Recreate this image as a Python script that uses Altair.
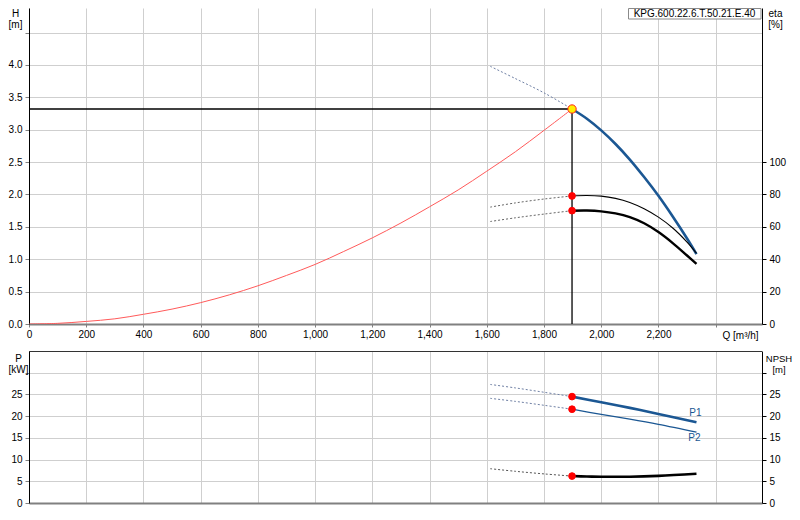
import altair as alt
import pandas as pd

FONT = "Liberation Sans"
BLUE = "#1b5793"
GRID = "#cfcfcf"

# ---------------- data ----------------
model_name = "KPG.600.22.6.T.50.21.E.40"
Q_MAX = 2562
duty_Q = 1898
duty_H = 3.32

# pump head curve H(Q)
h_dash_Q = [1612, 1700, 1800, 1898]
h_dash_H = [3.98, 3.79, 3.57, 3.32]
h_Q = [1898, 1950, 2000, 2050, 2100, 2150, 2200, 2250, 2300, 2333]
h_H = [3.32, 3.17, 2.99, 2.78, 2.54, 2.27, 1.98, 1.66, 1.32, 1.08]

# system curve
sys_Q = [0, 100, 200, 300, 400, 500, 600, 700, 800, 900, 1000, 1100, 1200,
         1300, 1400, 1500, 1600, 1700, 1800, 1898]
sys_H = [0.00, 0.01, 0.04, 0.08, 0.15, 0.23, 0.33, 0.45, 0.59, 0.75, 0.92,
         1.12, 1.33, 1.56, 1.81, 2.07, 2.36, 2.66, 2.99, 3.32]

# efficiency curves (%)
eta_Q = [1898, 1950, 2000, 2050, 2100, 2150, 2200, 2250, 2300, 2333]
eta1 = [79.1, 79.4, 79.0, 77.6, 75.1, 71.2, 66.0, 59.3, 50.6, 43.7]
eta2 = [70.0, 70.1, 69.6, 68.3, 66.0, 62.2, 56.8, 50.0, 42.3, 37.1]
eta_dash_Q = [1612, 1700, 1800, 1898]
eta1_dash = [72.2, 74.8, 77.2, 79.1]
eta2_dash = [63.3, 65.6, 67.9, 70.0]

# power curves (kW)
p_Q = [1898, 2000, 2100, 2200, 2333]
p1 = [24.5, 23.2, 21.9, 20.5, 18.6]
p2 = [21.6, 20.4, 19.3, 18.1, 16.3]
p_dash_Q = [1612, 1700, 1800, 1898]
p1_dash = [27.3, 26.5, 25.5, 24.5]
p2_dash = [24.1, 23.4, 22.5, 21.6]

# NPSH (m)
npsh_Q = [1898, 1950, 2000, 2100, 2200, 2333]
npsh = [6.2, 6.1, 6.05, 6.05, 6.25, 6.75]
npsh_dash_Q = [1612, 1700, 1800, 1898]
npsh_dash = [7.9, 7.3, 6.7, 6.2]

x_ticks = list(range(0, 2401, 200))
h_ticks = [0, 0.5, 1.0, 1.5, 2.0, 2.5, 3.0, 3.5, 4.0, 4.5]
eta_ticks = [0, 20, 40, 60, 80, 100]
p_ticks = [0, 5, 10, 15, 20, 25, 30]

# ---------------- scales / axes ----------------
W = 733
H_TOP = 316
H_BOT = 152

x_scale = alt.Scale(domain=[0, Q_MAX], nice=False, zero=False)
h_scale = alt.Scale(domain=[0, 4.88], nice=False)
eta_scale = alt.Scale(domain=[0, 4.88 * 40], nice=False)
p_scale = alt.Scale(domain=[0, 35], nice=False)

x_axis_top = alt.Axis(
    values=x_ticks,
    labelExpr="datum.value >= 2400 ? '' : format(datum.value, ',')",
    title="Q [m³/h]", titleAngle=0, titleX=693, titleY=6,
    titleAlign="left", titleBaseline="top",
    grid=True, gridColor=GRID, domainColor="#808080", domainWidth=2,
    tickColor="#808080", tickSize=3, labelPadding=2,
    labelFlush=False, labelOverlap=False,
)
x_axis_bot = alt.Axis(
    values=x_ticks, labels=False, ticks=False, title=None,
    grid=True, gridColor=GRID, domainColor="#808080", domainWidth=2,
)
h_axis = alt.Axis(
    values=h_ticks,
    labelExpr="datum.value <= 4.0 ? format(datum.value, '.1f') : ''",
    title=["H", "[m]"], titleAngle=0, titleX=-14, titleY=0,
    titleAlign="center", titleBaseline="top", titleLineHeight=11,
    grid=True, gridColor=GRID, domainColor="#000", tickColor="#808080",
    tickSize=4, labelPadding=3, labelOverlap=False,
)
eta_axis = alt.Axis(
    orient="right", values=eta_ticks, format="d",
    title=["eta", "[%]"], titleAngle=0, titleX=13, titleY=0,
    titleAlign="center", titleBaseline="top", titleLineHeight=11,
    grid=False, domainColor="#000", tickColor="#000",
    tickSize=4, labelPadding=3, labelOverlap=False,
)
p_axis = alt.Axis(
    values=p_ticks,
    labelExpr="datum.value <= 25 ? format(datum.value, 'd') : ''",
    title=["P", "[kW]"], titleAngle=0, titleX=-11, titleY=2,
    titleAlign="center", titleBaseline="top", titleLineHeight=11,
    grid=True, gridColor=GRID, domainColor="#000", tickColor="#808080",
    tickSize=4, labelPadding=3, labelOverlap=False,
)
npsh_axis = alt.Axis(
    orient="right", values=p_ticks,
    labelExpr="datum.value <= 25 ? format(datum.value, 'd') : ''",
    title=["NPSH", "[m]"], titleAngle=0, titleX=16.5, titleY=2,
    titleAlign="center", titleBaseline="top", titleLineHeight=11,
    titleFontSize=9.5,
    grid=False, domainColor="#000", tickColor="#000",
    tickSize=4, labelPadding=3, labelOverlap=False,
)


def XT(field="Q"):
    return alt.X(f"{field}:Q", scale=x_scale, axis=x_axis_top)


def XB(field="Q"):
    return alt.X(f"{field}:Q", scale=x_scale, axis=x_axis_bot)


def YH(field="v"):
    return alt.Y(f"{field}:Q", scale=h_scale, axis=h_axis)


def YE(field="v"):
    return alt.Y(f"{field}:Q", scale=eta_scale, axis=eta_axis)


def YP(field="v"):
    return alt.Y(f"{field}:Q", scale=p_scale, axis=p_axis)


def YN(field="v"):
    return alt.Y(f"{field}:Q", scale=p_scale, axis=npsh_axis)


def df(q, v):
    return pd.DataFrame({"Q": q, "v": v})


def line(data, X, Y, color, width, dash=None):
    kw = dict(color=color, strokeWidth=width, interpolate="catmull-rom", clip=True)
    if dash:
        kw["strokeDash"] = dash
    return alt.Chart(data).mark_line(**kw).encode(x=X(), y=Y())


def dot(q, v, X, Y, fill="#ff0000", stroke="#ff0000", size=45):
    return alt.Chart(df([q], [v])).mark_point(
        filled=True, fill=fill, stroke=stroke, strokeWidth=1, size=size, opacity=1
    ).encode(x=X(), y=Y())


# ---------------- top panel ----------------
duty_df = pd.DataFrame({"Q0": [0], "Q": [duty_Q], "H0": [0], "v": [duty_H]})

sys_line = line(df(sys_Q, sys_H), XT, YH, "#ff5a5a", 1)
h_rule = alt.Chart(duty_df).mark_rule(color="#000", strokeWidth=1.3).encode(
    x=XT("Q0"), x2="Q:Q", y=YH("v"))
v_rule = alt.Chart(duty_df).mark_rule(color="#000", strokeWidth=1.3).encode(
    x=XT("Q"), y=YH("H0"), y2="v:Q")
h_dash = line(df(h_dash_Q, h_dash_H), XT, YH, "#6f80a4", 1, [2, 2])
h_solid = line(df(h_Q, h_H), XT, YH, BLUE, 2.6)
duty_pt = dot(duty_Q, duty_H, XT, YH, fill="#ffee00", stroke="#ff2020", size=70)

legend_df = pd.DataFrame({"name": [model_name]})
legend_box = alt.Chart(legend_df).mark_rect(
    fill="#ffffff", stroke="#8a8a8a", strokeWidth=1
).encode(x=alt.value(599.5), x2=alt.value(732), y=alt.value(0.5), y2=alt.value(11))
legend_txt = alt.Chart(legend_df).mark_text(
    fontSize=10, color="#000", baseline="middle", align="center"
).encode(x=alt.value(665.5), y=alt.value(5.8), text="name:N")

h_group = alt.layer(sys_line, h_rule, v_rule, h_dash, h_solid, duty_pt,
                    legend_box, legend_txt)

eta_group = alt.layer(
    line(df(eta_dash_Q, eta1_dash), XT, YE, "#666666", 1, [2, 2]),
    line(df(eta_dash_Q, eta2_dash), XT, YE, "#666666", 1, [2, 2]),
    line(df(eta_Q, eta1), XT, YE, "#000", 1.1),
    line(df(eta_Q, eta2), XT, YE, "#000", 2.4),
    dot(eta_Q[0], eta1[0], XT, YE),
    dot(eta_Q[0], eta2[0], XT, YE),
)

top = alt.layer(h_group, eta_group).resolve_scale(y="independent").properties(
    width=W, height=H_TOP)

# ---------------- bottom panel ----------------
border_df = pd.DataFrame({"a": [0]})
top_border = alt.Chart(border_df).mark_rule(color="#333333", strokeWidth=1.2).encode(
    x=alt.value(0), x2=alt.value(W), y=alt.value(0.5))

p1_lbl = alt.Chart(pd.DataFrame({"Q": [p_Q[-1]], "v": [p1[-1]], "t": ["P1"]})).mark_text(
    color=BLUE, fontSize=10, dy=-9, dx=-1, baseline="middle").encode(
    x=XB(), y=YP(), text="t:N")
p2_lbl = alt.Chart(pd.DataFrame({"Q": [p_Q[-1]], "v": [p2[-1]], "t": ["P2"]})).mark_text(
    color=BLUE, fontSize=10, dy=6, dx=-2, baseline="middle").encode(
    x=XB(), y=YP(), text="t:N")

p_group = alt.layer(
    top_border,
    line(df(p_dash_Q, p1_dash), XB, YP, "#6f80a4", 1, [2, 2]),
    line(df(p_dash_Q, p2_dash), XB, YP, "#6f80a4", 1, [2, 2]),
    line(df(p_Q, p1), XB, YP, BLUE, 2.6),
    line(df(p_Q, p2), XB, YP, BLUE, 1.3),
    dot(p_Q[0], p1[0], XB, YP),
    dot(p_Q[0], p2[0], XB, YP),
    p1_lbl, p2_lbl,
)
npsh_group = alt.layer(
    line(df(npsh_dash_Q, npsh_dash), XB, YN, "#555555", 1, [2, 2]),
    line(df(npsh_Q, npsh), XB, YN, "#000", 2.6),
    dot(npsh_Q[0], npsh[0], XB, YN),
)

bottom = alt.layer(p_group, npsh_group).resolve_scale(y="independent").properties(
    width=W, height=H_BOT)

chart = alt.vconcat(top, bottom, spacing=27, bounds="flush").properties(
    padding=0
).configure(font=FONT).configure_view(stroke=None).configure_axis(
    labelFont=FONT, titleFont=FONT, labelFontSize=10, titleFontSize=10,
    titleFontWeight="normal", labelColor="#000", titleColor="#000",
).configure_text(font=FONT)

chart.save("out.html", embed_options={"renderer": "svg", "actions": False})
